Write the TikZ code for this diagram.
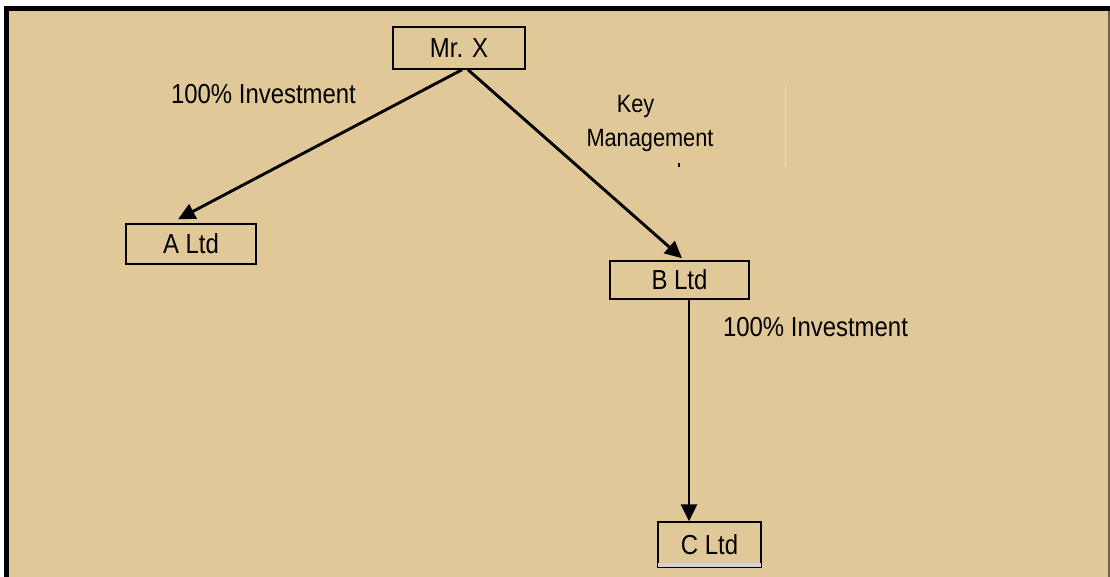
\documentclass[tikz,border=0pt]{standalone}
\usepackage{fontspec}
\setmainfont{Liberation Sans}[FakeStretch=0.87]
\usetikzlibrary{arrows.meta,calc}
\definecolor{bgtan}{HTML}{E1C898}
\definecolor{edgeline}{HTML}{6E6248}
\definecolor{faintline}{HTML}{F0DEBC}
\definecolor{lavstrip}{HTML}{D6D0DE}
\tikzset{
	firm/.style={draw, line width=1.5pt, inner sep=0pt, font=\fontsize{27.5}{30}\selectfont},
	link/.style={line width=2.9pt, -{Triangle[length=17pt,width=16pt]}},
	lbl/.style={anchor=base, inner sep=0pt, font=\fontsize{27.5}{30}\selectfont},
	smalllbl/.style={lbl, font=\fontsize{25}{30}\selectfont}
}

\begin{document}
\begin{tikzpicture}[x=1pt,y=-1pt]
			%%%%% START %%%%%
			
			\useasboundingbox (0,0) rectangle (1110,577);
			\fill[white] (0,0) rectangle (1110,577);
			\fill[bgtan] (9,11) rectangle (1110,577);
			\fill[black] (4,6) rectangle (1110,11);
			\fill[black] (4,6) rectangle (9,577);
			\draw[edgeline, line width=1.5pt] (1109,11) -- (1109,577);
			
			\node[firm, minimum width=132, minimum height=42] (mrx) at (459,48) {Mr. X};
			\node[firm, minimum width=130, minimum height=40] (altd) at (191,244) {A Ltd};
			\node[firm, minimum width=139, minimum height=38] (bltd) at (679.5,280) {B Ltd};
			\node[firm, minimum width=103, minimum height=45] (cltd) at (709.5,544.5) {C Ltd};
			\fill[lavstrip] ([xshift=1pt,yshift=1pt]cltd.south west) rectangle ([xshift=-1pt,yshift=4.5pt]cltd.south east);
			
			\draw[link] ([xshift=3pt]mrx.south) -- ([xshift=-13pt,yshift=4pt]altd.north);
			\draw[link] ([xshift=9pt]mrx.south) -- ([xshift=2.5pt,yshift=2pt]bltd.north);
			\draw[link] ([xshift=9.5pt]bltd.south) -- ([xshift=-20.5pt]cltd.north);
			
			\node[lbl] (invest1) at (263.5,104) {100\% Investment};
			\node[lbl] (invest2) at (815.5,336) {100\% Investment};
			\node[smalllbl] (key) at (635.5,113) {Key};
			\node[smalllbl] (mgmt) at (650,147) {Management};
			
			\fill[black] (678,163) rectangle (680,167);
			\draw[faintline, line width=1pt] (785,86) -- (785,167);
			
			%%%%% END %%%%%
		\end{tikzpicture}
\end{document}
